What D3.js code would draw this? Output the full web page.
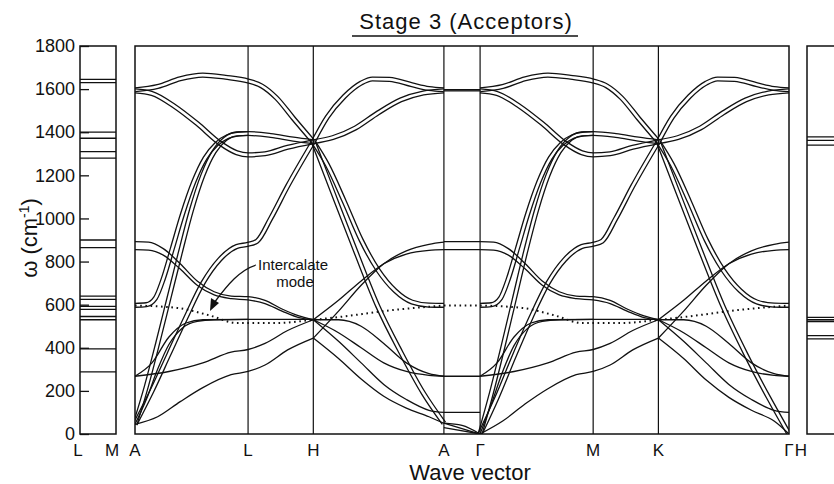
<!DOCTYPE html>
<html><head><meta charset="utf-8">
<script src="https://cdn.jsdelivr.net/npm/d3@7"></script>
<style>
body{margin:0;background:#fff;}
text{font-family:"Liberation Sans",Arial,sans-serif;fill:#111;}
</style></head><body><svg id="chart" width="834" height="484"></svg>
<script>
// Symmetry points along the wave-vector path (reduced path length, Γ–M = 1)
const pathLabels = ["A","L","H","A","Γ","M","K","Γ"];
const pathK = [0, 1, 1.577, 2.732, 3.052, 4.052, 4.629, 5.784];
const halfStarts = [0, 3.052];          // A–L–H–A and Γ–M–K–Γ
const yTicks = [0,200,400,600,800,1000,1200,1400,1600,1800];

// In-plane branches, k measured from the start of each half (M/L = 1, K/H = 1.577)
const pairedBranches = [
  [[0,1597],[0.2,1612],[0.4,1648],[0.6,1665],[0.8,1655],[1,1638],[1.12,1615],[1.25,1560],[1.4,1465],[1.577,1356]],
  [[1.577,1356],[1.7,1470],[1.85,1565],[2,1628],[2.1,1647],[2.25,1645],[2.45,1620],[2.6,1603],[2.732,1597]],
  [[0,1592],[0.15,1580],[0.35,1520],[0.55,1440],[0.75,1350],[0.9,1305],[1,1295],[1.15,1300],[1.35,1330],[1.577,1356]],
  [[1.577,1356],[1.75,1375],[1.95,1420],[2.15,1490],[2.35,1550],[2.55,1582],[2.732,1592]],
  [[0,597],[0.1,600],[0.18,630],[0.25,720],[0.33,860],[0.42,1020],[0.52,1170],[0.62,1280],[0.72,1345],[0.82,1380],[0.92,1392],[1,1394]],
  [[1.577,1356],[1.7,1250],[1.85,1080],[2,900],[2.15,760],[2.3,665],[2.45,612],[2.6,598],[2.732,597]]
];
const singleBranches = [
  [[0,892],[0.12,890],[0.25,860],[0.4,790],[0.55,710],[0.7,660],[0.85,640],[1,637],[1.15,620],[1.3,580],[1.45,548],[1.577,530]],
  [[0,855],[0.12,853],[0.25,830],[0.4,765],[0.55,690],[0.7,645],[0.85,628],[1,622],[1.15,605],[1.3,570],[1.45,540],[1.577,530]],
  [[1.577,445],[1.8,570],[2,690],[2.2,790],[2.4,850],[2.6,880],[2.732,890]],
  [[1.577,530],[1.8,620],[2,710],[2.2,790],[2.4,835],[2.6,852],[2.732,855]],
  [[0,268],[0.3,290],[0.6,330],[0.85,380],[1,392],[1.15,420],[1.35,480],[1.577,530]],
  [[0,268],[0.15,330],[0.3,450],[0.45,515],[0.6,530],[1,532],[1.577,532]],
  [[1.577,530],[1.8,530],[2.0,500],[2.2,420],[2.4,330],[2.6,280],[2.732,268]],
  [[1.577,530],[1.8,470],[2,400],[2.2,330],[2.4,290],[2.6,272],[2.732,268]]
];
// Acoustic branches: they reach zero at Γ and stay finite at A
const acousticPairsG = [
  [[0,0],[0.1,190],[0.2,400],[0.3,620],[0.4,840],[0.5,1040],[0.6,1200],[0.7,1310],[0.8,1370],[0.9,1392],[1,1394],[1.2,1385],[1.4,1368],[1.577,1356]],
  [[0,0],[0.15,170],[0.3,360],[0.45,540],[0.6,700],[0.75,810],[0.9,870],[1,880],[1.08,895],[1.2,1000],[1.35,1150],[1.577,1356]],
  [[1.577,1356],[1.75,1120],[1.95,850],[2.15,590],[2.35,370],[2.55,170],[2.732,0]]
];
const acousticPairsA = [
  [[0,45],[0.1,220],[0.2,420],[0.3,630],[0.4,840],[0.5,1040],[0.6,1200],[0.7,1310],[0.8,1370],[0.9,1392],[1,1394],[1.2,1385],[1.4,1368],[1.577,1356]],
  [[0,45],[0.15,200],[0.3,370],[0.45,540],[0.6,700],[0.75,810],[0.9,870],[1,880],[1.08,895],[1.2,1000],[1.35,1150],[1.577,1356]],
  [[1.577,1356],[1.75,1120],[1.95,850],[2.15,590],[2.35,380],[2.55,190],[2.732,50]]
];
const acousticSinglesG = [
  [[0,0],[0.2,60],[0.4,140],[0.6,210],[0.85,275],[1,290],[1.15,320],[1.35,390],[1.577,445]],
  [[0,0],[0.1,140],[0.2,290],[0.3,410],[0.42,490],[0.55,522],[0.7,530],[1,532]],
  [[1.577,445],[1.8,350],[2,250],[2.2,170],[2.4,110],[2.6,60],[2.732,0]],
  [[1.577,530],[1.8,430],[2,330],[2.2,230],[2.4,160],[2.6,110],[2.732,100]]
];
const acousticSinglesA = [
  [[0,45],[0.2,80],[0.4,150],[0.6,215],[0.85,275],[1,290],[1.15,320],[1.35,390],[1.577,445]],
  [[0,45],[0.1,160],[0.2,300],[0.3,415],[0.42,492],[0.55,522],[0.7,530],[1,532]],
  [[1.577,445],[1.8,350],[2,255],[2.2,175],[2.4,120],[2.6,80],[2.732,50]],
  [[1.577,530],[1.8,430],[2,330],[2.2,230],[2.4,160],[2.6,110],[2.732,100]]
];
// Intercalate mode (dotted)
const intercalate = [[0,596],[0.37,585],[0.66,550],[0.9,515],[1.25,515],[1.55,528],[1.84,545],[2.28,575],[2.732,596]];
// A–Γ segment, k from A (0) to Γ (0.32)
const deltaBranches = [
  [[0,1597],[0.32,1597]], [[0,1592],[0.32,1592]],
  [[0,892],[0.32,892]], [[0,855],[0.32,855]],
  [[0,268],[0.32,268]],
  [[0,100],[0.32,100]],
  [[0,50],[0.16,40],[0.32,0]], [[0,50],[0.16,25],[0.32,0]], [[0,30],[0.32,0]]
];
const deltaIntercalate = [[0,596],[0.32,596]];
// Frequencies at M (L–M panel) and at K (H panel)
const mLevels = [1645,1630,1400,1372,1310,1280,900,865,640,625,592,578,545,530,395,288];
const kLevels = [1378,1362,1340,541,530,522,456,441];

const svg = d3.select("#chart");
const y = d3.scaleLinear().domain([0,1800]).range([434,46]);
const x = d3.scaleLinear().domain([0,5.784]).range([135,789]);
const line = d3.line().x(d=>x(d[0])).y(d=>y(d[1])).curve(d3.curveMonotoneX);

const defs = svg.append("defs");
defs.append("clipPath").attr("id","mainClip").append("rect")
  .attr("x",135).attr("y",46).attr("width",654).attr("height",388);

const ink = "#111";
const plot = svg.append("g").attr("clip-path","url(#mainClip)");
let maskId = 0;
// A doubly degenerate pair is drawn as two parallel strokes
function drawPair(pts, off){
  const d = line(pts.map(p=>[p[0]+off,p[1]]));
  const id = "pm"+(maskId++);
  const m = defs.append("mask").attr("id",id).attr("maskUnits","userSpaceOnUse")
    .attr("x",0).attr("y",0).attr("width",834).attr("height",484);
  m.append("rect").attr("width",834).attr("height",484).attr("fill","#fff");
  m.append("path").attr("d",d).attr("fill","none").attr("stroke","#000").attr("stroke-width",2.6);
  plot.append("path").attr("d",d).attr("fill","none").attr("stroke",ink)
    .attr("stroke-width",5.2).attr("mask",`url(#${id})`);
}
function drawSingle(pts, off){
  plot.append("path").attr("d",line(pts.map(p=>[p[0]+off,p[1]])))
    .attr("fill","none").attr("stroke",ink).attr("stroke-width",1.3);
}
halfStarts.forEach((off,i)=>{
  pairedBranches.forEach(b=>drawPair(b,off));
  (i===0?acousticPairsA:acousticPairsG).forEach(b=>drawPair(b,off));
  singleBranches.forEach(b=>drawSingle(b,off));
  (i===0?acousticSinglesA:acousticSinglesG).forEach(b=>drawSingle(b,off));
  plot.append("path").attr("d",line(intercalate.map(p=>[p[0]+off,p[1]])))
    .attr("fill","none").attr("stroke",ink).attr("stroke-width",2)
    .attr("stroke-dasharray","1.6,3.6");
});
deltaBranches.forEach(b=>drawSingle(b,2.732));
plot.append("path").attr("d",line(deltaIntercalate.map(p=>[p[0]+2.732,p[1]])))
  .attr("fill","none").attr("stroke",ink).attr("stroke-width",2).attr("stroke-dasharray","1.6,3.6");

// Vertical lines at symmetry points
svg.append("g").selectAll("line").data(pathK.slice(1,-1)).join("line")
  .attr("x1",d=>x(d)).attr("x2",d=>x(d)).attr("y1",46).attr("y2",434)
  .attr("stroke",ink).attr("stroke-width",1.2);
// Main frame
svg.append("rect").attr("x",135).attr("y",46).attr("width",654).attr("height",388)
  .attr("fill","none").attr("stroke",ink).attr("stroke-width",1.5);

// L–M panel
const lp = {x0:80,x1:116};
svg.append("g").selectAll("line").data(mLevels).join("line")
  .attr("x1",lp.x0).attr("x2",lp.x1).attr("y1",d=>y(d)).attr("y2",d=>y(d))
  .attr("stroke",ink).attr("stroke-width",1.3);
svg.append("rect").attr("x",lp.x0).attr("y",46).attr("width",lp.x1-lp.x0).attr("height",388)
  .attr("fill","none").attr("stroke",ink).attr("stroke-width",1.5);
// H panel (continues past the right edge)
const rp = {x0:807,x1:850};
svg.append("g").selectAll("line").data(kLevels).join("line")
  .attr("x1",rp.x0).attr("x2",rp.x1).attr("y1",d=>y(d)).attr("y2",d=>y(d))
  .attr("stroke",ink).attr("stroke-width",1.3);
svg.append("rect").attr("x",rp.x0).attr("y",46).attr("width",rp.x1-rp.x0).attr("height",388)
  .attr("fill","none").attr("stroke",ink).attr("stroke-width",1.5);

// Frequency axis
const yAxis = d3.axisLeft(y).tickValues(yTicks).tickFormat(d3.format("d")).tickSize(-9).tickPadding(5);
const ga = svg.append("g").attr("transform",`translate(${lp.x0},0)`).call(yAxis);
ga.select(".domain").remove();
ga.selectAll(".tick line").attr("stroke",ink).attr("stroke-width",1.3);
ga.selectAll("text").attr("font-size",18).attr("fill",ink).style("font-family","Liberation Sans, Arial, sans-serif");

// Wave-vector labels
const xLabels = [["L",lp.x0-2],["M",lp.x1-4]]
  .concat(pathLabels.map((s,i)=>[s,x(pathK[i])]))
  .concat([["H",rp.x0-6]]);
svg.append("g").selectAll("text").data(xLabels).join("text")
  .attr("x",d=>d[1]).attr("y",456).attr("text-anchor","middle").attr("font-size",17).text(d=>d[0]);

svg.append("text").attr("x",470).attr("y",480).attr("text-anchor","middle").attr("font-size",22).text("Wave vector");
svg.append("text").attr("transform","translate(37,238) rotate(-90)").attr("text-anchor","middle")
  .attr("font-size",22).html("ω (cm<tspan dy='-8' font-size='14'>-1</tspan><tspan dy='8'>)</tspan>");

// Title
svg.append("text").attr("x",466).attr("y",29).attr("text-anchor","middle").attr("font-size",22)
  .attr("letter-spacing",1).text("Stage 3  (Acceptors)");
svg.append("line").attr("x1",352).attr("x2",578).attr("y1",36).attr("y2",36).attr("stroke",ink).attr("stroke-width",1.5);

// Intercalate-mode annotation
svg.append("text").attr("x",258).attr("y",270).attr("font-size",15).text("Intercalate");
svg.append("text").attr("x",295).attr("y",287).attr("text-anchor","middle").attr("font-size",15).text("mode");
svg.append("path").attr("d","M256,265 C240,270 228,284 214,303").attr("fill","none").attr("stroke",ink).attr("stroke-width",1.3);
svg.append("path").attr("d","M210,311 L211,298 L219,303 Z").attr("fill",ink);
</script></body></html>
